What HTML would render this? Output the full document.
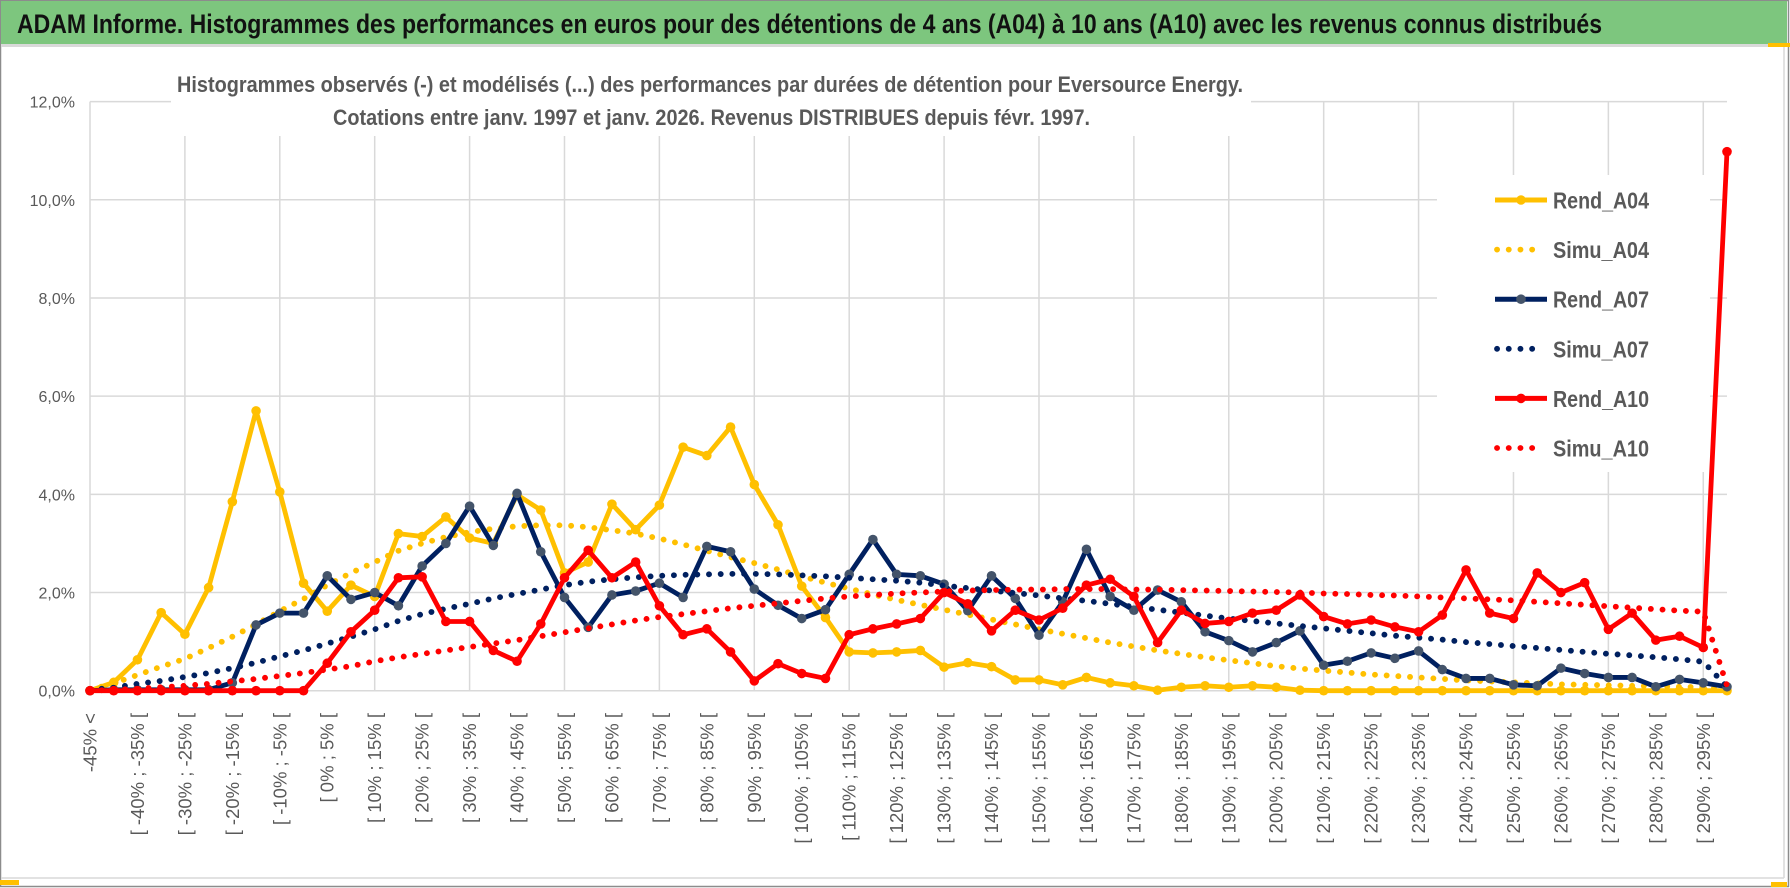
<!DOCTYPE html>
<html><head><meta charset="utf-8"><style>
html,body{margin:0;padding:0;background:#fff;}
svg{display:block;}
</style></head><body>
<svg id="chart" width="1790" height="888" viewBox="0 0 1790 888" xmlns="http://www.w3.org/2000/svg" font-family="'Liberation Sans', sans-serif">
  <rect x="0" y="0" width="1790" height="888" fill="#fff"/>
  <rect x="0.5" y="0.5" width="1788" height="886" fill="none" stroke="#8c8c8c" stroke-width="1.5"/>
  <rect x="1" y="1" width="1786" height="43" fill="#7dc67e"/>
  <line x1="1" y1="45.5" x2="1787" y2="45.5" stroke="#d9d9d9" stroke-width="3"/>
  <text x="17" y="33" font-size="27" font-weight="bold" fill="#111" textLength="1585" lengthAdjust="spacingAndGlyphs">ADAM Informe. Histogrammes des performances en euros pour des détentions de 4 ans (A04) à 10 ans (A10) avec les revenus connus distribués</text>
  <line x1="1784" y1="47" x2="1784" y2="878" stroke="#d9d9d9" stroke-width="1.5"/>
  <line x1="1" y1="878" x2="1784" y2="878" stroke="#d9d9d9" stroke-width="1.5"/>
  <rect x="0" y="880" width="19" height="5" fill="#ffc000"/>
  <rect x="1768" y="43" width="22" height="4" fill="#ffc000"/>
  <rect x="1771" y="882" width="16" height="5" fill="#ffc000"/>
  <g id="grid"></g>
  <rect x="171" y="58" width="1080" height="78" fill="#fff"/>
  <rect x="1437" y="175" width="273" height="297" fill="#fff"/>
  <text x="177" y="92" font-size="22" font-weight="bold" fill="#595959" textLength="1066" lengthAdjust="spacingAndGlyphs">Histogrammes observés (-) et modélisés (...) des performances par durées de détention pour Eversource Energy.</text>
  <text x="333" y="125" font-size="22" font-weight="bold" fill="#595959" textLength="757" lengthAdjust="spacingAndGlyphs">Cotations entre janv. 1997 et janv. 2026. Revenus DISTRIBUES depuis févr. 1997.</text>
  <g id="yaxis"></g>
  <g id="xaxis"></g>
  <g id="series"></g>
  <g id="legend"></g>
</svg>
<script>
const yTicks = [0, 2, 4, 6, 8, 10, 12];
const yTickLabels = ["0,0%", "2,0%", "4,0%", "6,0%", "8,0%", "10,0%", "12,0%"];
const categories = ["-45% <"];
for (let b = -45; b < 300; b += 5) { categories.push("[ " + b + "% ; " + (b + 5) + "% ["); }
categories.length = 70;
const rendA04 = [0,0.17,0.63,1.59,1.15,2.1,3.85,5.7,4.05,2.19,1.62,2.15,1.92,3.2,3.14,3.54,3.11,3.0,3.99,3.68,2.4,2.62,3.8,3.28,3.78,4.96,4.79,5.37,4.2,3.38,2.13,1.49,0.79,0.77,0.79,0.82,0.48,0.57,0.49,0.22,0.22,0.12,0.27,0.16,0.1,0.01,0.07,0.1,0.07,0.1,0.07,0.01,0,0,0,0,0,0,0,0,0,0,0,0,0,0,0,0,0,0];
const simuA04 = [0.02,0.15,0.32,0.49,0.65,0.87,1.1,1.35,1.62,1.87,2.15,2.4,2.62,2.85,3.0,3.13,3.23,3.3,3.35,3.37,3.37,3.33,3.27,3.2,3.1,2.98,2.85,2.72,2.6,2.47,2.33,2.2,2.08,1.96,1.85,1.75,1.65,1.55,1.45,1.35,1.25,1.16,1.07,0.98,0.9,0.82,0.75,0.68,0.62,0.56,0.5,0.45,0.41,0.37,0.33,0.3,0.27,0.24,0.21,0.19,0.17,0.15,0.13,0.12,0.11,0.1,0.09,0.08,0.07,0.03];
const rendA07 = [0,0.02,0.02,0.02,0.02,0.02,0.16,1.34,1.58,1.58,2.34,1.86,2.0,1.73,2.54,3.0,3.76,2.96,4.02,2.83,1.9,1.29,1.95,2.03,2.19,1.9,2.94,2.83,2.07,1.74,1.47,1.65,2.37,3.08,2.37,2.34,2.17,1.63,2.34,1.88,1.13,1.81,2.88,1.92,1.64,2.05,1.81,1.2,1.02,0.79,0.98,1.22,0.52,0.6,0.77,0.66,0.81,0.43,0.25,0.25,0.12,0.1,0.46,0.35,0.27,0.27,0.08,0.23,0.16,0.08];
const simuA07 = [0.02,0.06,0.14,0.2,0.28,0.36,0.46,0.57,0.7,0.82,0.96,1.1,1.25,1.42,1.56,1.67,1.77,1.88,1.97,2.06,2.15,2.22,2.27,2.31,2.34,2.36,2.37,2.38,2.38,2.37,2.35,2.33,2.3,2.27,2.24,2.2,2.14,2.09,2.04,1.99,1.94,1.88,1.83,1.77,1.71,1.65,1.59,1.53,1.47,1.42,1.37,1.32,1.27,1.22,1.17,1.12,1.08,1.04,0.99,0.95,0.91,0.87,0.83,0.79,0.75,0.72,0.68,0.64,0.59,0.08];
const rendA10 = [0,0,0,0,0,0,0,0,0,0,0.56,1.2,1.64,2.3,2.32,1.41,1.41,0.82,0.6,1.36,2.3,2.86,2.3,2.62,1.73,1.14,1.26,0.79,0.2,0.55,0.35,0.25,1.14,1.26,1.36,1.47,2.0,1.77,1.22,1.64,1.44,1.68,2.15,2.27,1.92,0.98,1.64,1.37,1.41,1.58,1.64,1.95,1.51,1.36,1.44,1.3,1.2,1.54,2.46,1.58,1.47,2.4,2.0,2.2,1.25,1.58,1.03,1.11,0.88,10.98];
const simuA10 = [0,0.02,0.04,0.07,0.1,0.14,0.19,0.24,0.3,0.36,0.43,0.5,0.6,0.68,0.75,0.82,0.89,0.96,1.03,1.11,1.19,1.27,1.35,1.43,1.5,1.56,1.62,1.68,1.73,1.78,1.83,1.88,1.92,1.95,1.98,2.0,2.02,2.04,2.05,2.06,2.06,2.07,2.07,2.07,2.06,2.06,2.05,2.04,2.03,2.02,2.01,2.0,1.98,1.97,1.95,1.94,1.92,1.9,1.88,1.86,1.84,1.81,1.78,1.75,1.72,1.69,1.66,1.63,1.61,0.1];
const seriesNames = ["Rend_A04","Simu_A04","Rend_A07","Simu_A07","Rend_A10","Simu_A10"];

const NS = "http://www.w3.org/2000/svg";
const X0 = 90, X1 = 1727, Y0 = 690.7, YTOP = 101.6, YMAX = 12;
function xPos(i){ return X0 + i * (X1 - X0) / (categories.length - 1); }
function yPos(v){ return Y0 - v * (Y0 - YTOP) / YMAX; }
function mk(tag, attrs, parent){ const e = document.createElementNS(NS, tag); for (const k in attrs) e.setAttribute(k, attrs[k]); parent.appendChild(e); return e; }

const grid = document.getElementById('grid');
yTicks.forEach(function(t){
  const l = mk('line', {x1: X0, x2: X1, y1: yPos(t), y2: yPos(t), stroke: '#d9d9d9', 'stroke-width': 1.5}, grid);
  
  
});
for (let i = 0; i < categories.length; i += 4) {
  const l = mk('line', {x1: xPos(i), x2: xPos(i), y1: yPos(YMAX), y2: Y0, stroke: '#d9d9d9', 'stroke-width': 1.5}, grid);
  
  
}

const yaxis = document.getElementById('yaxis');
yTicks.forEach(function(t, k){
  const tx = mk('text', {x: 75, y: yPos(t) + 6, 'text-anchor': 'end', 'font-size': 16, fill: '#595959'}, yaxis);
  tx.textContent = yTickLabels[k];
  
  
});

const xaxis = document.getElementById('xaxis');
for (let i = 0; i < categories.length; i += 2) {
  const x = xPos(i);
  const tx = mk('text', {x: 0, y: 0, 'text-anchor': 'end', 'font-size': 18.5, fill: '#595959', transform: 'translate(' + (x + 6.5) + ',713) rotate(-90)'}, xaxis);
  tx.textContent = categories[i];
  
  
}

const seriesG = document.getElementById('series');
function pts(arr){ return arr.map(function(v, i){ return xPos(i).toFixed(2) + ',' + yPos(v).toFixed(2); }).join(' '); }
function solid(arr, color, marker, name){
  const g = mk('g', {}, seriesG);
  
  
  const p = mk('polyline', {points: pts(arr), fill: 'none', stroke: color, 'stroke-width': 4.8, 'stroke-linejoin': 'round', 'stroke-linecap': 'round'}, g);
  
  
  arr.forEach(function(v, i){
    const c = mk('circle', {cx: xPos(i), cy: yPos(v), r: 4.8, fill: marker}, g);
    
    
  });
}
function dotted(arr, color, name){
  const p = mk('polyline', {points: pts(arr), fill: 'none', stroke: color, 'stroke-width': 5.8, 'stroke-linecap': 'round', 'stroke-dasharray': '0.1 11.6'}, seriesG);
  
  
}
solid(rendA04, '#ffc000', '#ffc000', 'rend-a04-series');
dotted(simuA04, '#ffc000', 'simu-a04-series');
solid(rendA07, '#002060', '#44546a', 'rend-a07-series');
dotted(simuA07, '#002060', 'simu-a07-series');
solid(rendA10, '#ff0000', '#ff0000', 'rend-a10-series');
dotted(simuA10, '#ff0000', 'simu-a10-series');

const legend = document.getElementById('legend');
const legColors = ['#ffc000','#ffc000','#002060','#002060','#ff0000','#ff0000'];
const legMarkers = ['#ffc000', null, '#44546a', null, '#ff0000', null];
seriesNames.forEach(function(nm, k){
  const cy = 200 + k * 49.6;
  const g = mk('g', {}, legend);
  
  
  if (legMarkers[k]) {
    mk('line', {x1: 1495, x2: 1547, y1: cy, y2: cy, stroke: legColors[k], 'stroke-width': 5}, g);
    mk('circle', {cx: 1521, cy: cy, r: 4.8, fill: legMarkers[k]}, g);
  } else {
    mk('line', {x1: 1497, x2: 1540, y1: cy, y2: cy, stroke: legColors[k], 'stroke-width': 5.8, 'stroke-linecap': 'round', 'stroke-dasharray': '0.1 11.6'}, g);
  }
  const t = mk('text', {x: 1553, y: cy + 8.5, 'font-size': 23, 'font-weight': 'bold', fill: '#595959', textLength: 96, lengthAdjust: 'spacingAndGlyphs'}, g);
  t.textContent = nm;
  
  
});
</script>
</body></html>
